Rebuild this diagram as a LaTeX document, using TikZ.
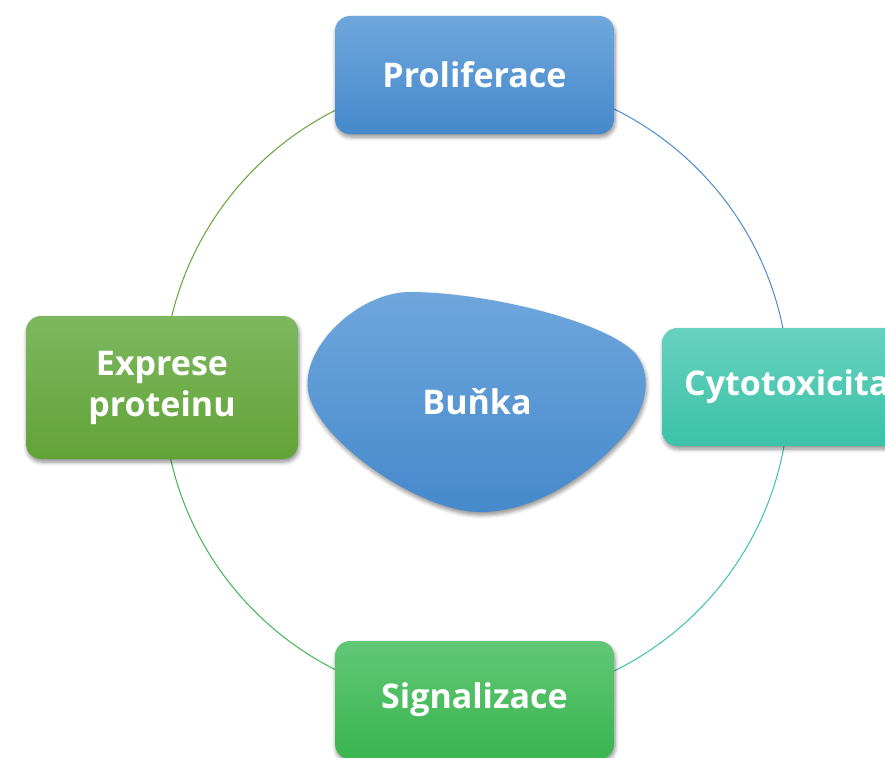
\documentclass[tikz,border=0pt]{standalone}
\usepackage{fontspec}
\setmainfont{Open Sans}
\usetikzlibrary{shadows.blur}
\definecolor{blueT}{HTML}{6FA6DC}
\definecolor{blueB}{HTML}{4589CC}
\definecolor{tealT}{HTML}{66D1BE}
\definecolor{tealB}{HTML}{3CC2A8}
\definecolor{grnT}{HTML}{62C775}
\definecolor{grnB}{HTML}{39B54F}
\definecolor{oliT}{HTML}{7DB860}
\definecolor{oliB}{HTML}{62A337}
\definecolor{arcBlue}{HTML}{4A8BD0}
\definecolor{arcTeal}{HTML}{3CC2A8}
\definecolor{arcGrn}{HTML}{3DB653}
\definecolor{arcOli}{HTML}{62A337}
\tikzset{
  lbl/.style={text=white, font=\fontsize{34}{41}\selectfont\bfseries},
  box/.style={lbl, rounded corners=15pt, minimum width=279pt, minimum height=118pt,
    align=center,
    blur shadow={shadow xshift=1pt, shadow yshift=-3pt, shadow blur steps=6, shadow opacity=45, shadow blur radius=4pt}},
  ring/.style={line width=1pt}
}
\begin{document}
\begin{tikzpicture}[x=1pt,y=-1pt]
\useasboundingbox (0,0) rectangle (885,757);
\coordinate (c) at (476,390);
\draw[ring, arcBlue] ([shift={(270:313)}]c) arc[start angle=270,end angle=360,radius=313];
\draw[ring, arcTeal] ([shift={(0:313)}]c) arc[start angle=0,end angle=90,radius=313];
\draw[ring, arcGrn] ([shift={(90:313)}]c) arc[start angle=90,end angle=180,radius=313];
\draw[ring, arcOli] ([shift={(180:313)}]c) arc[start angle=180,end angle=270,radius=313];
\node[box, top color=blueT, bottom color=blueB] (prol) at (474.5,75) {Proliferace};
\node[box, minimum width=0pt, inner xsep=22pt, anchor=west, top color=tealT, bottom color=tealB] (cyto) at (662,387) {Cytotoxicita};
\node[box, top color=grnT, bottom color=grnB] (sign) at (474.5,700) {Signalizace};
\node[box, minimum width=272pt, minimum height=143pt, top color=oliT, bottom color=oliB] (expr) at (162,387.5) {Exprese\\proteinu};
\path[top color=blueT, bottom color=blueB,
  blur shadow={shadow xshift=1pt, shadow yshift=-3pt, shadow blur steps=6, shadow opacity=45, shadow blur radius=4pt}]
  (308,390) .. controls (302,345) and (360,292) .. (410,292)
  .. controls (480,292) and (595,318) .. (632,350)
  .. controls (655,372) and (648,412) .. (618,442)
  .. controls (580,482) and (530,512) .. (480,512)
  .. controls (420,512) and (315,440) .. (308,390) -- cycle;
\node[lbl] (bunka) at (477,402) {Buňka};
\end{tikzpicture}
\end{document}
